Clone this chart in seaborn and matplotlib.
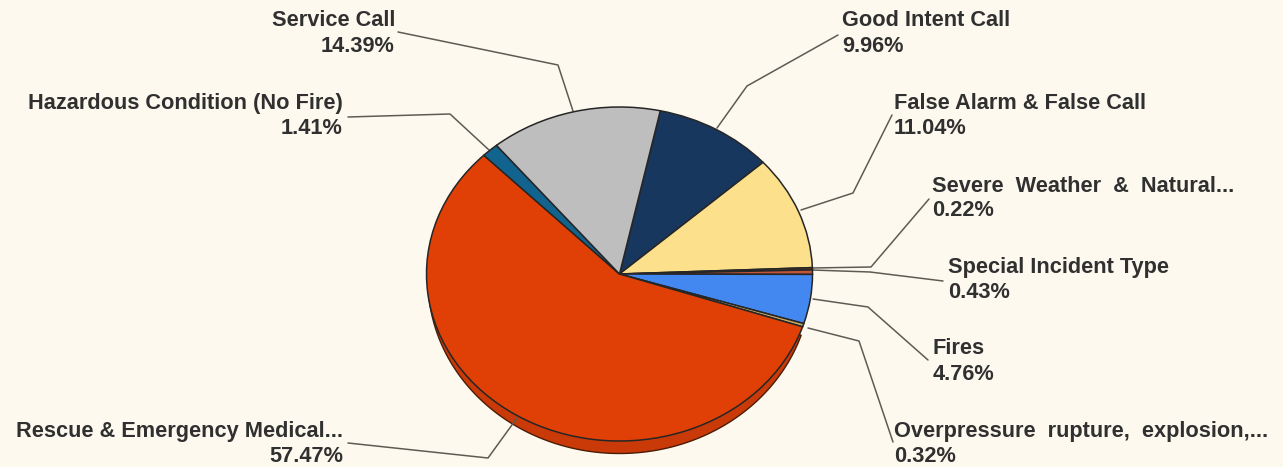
import matplotlib
matplotlib.use('Agg')
from matplotlib import pyplot as plt
import numpy as np
import seaborn as sns

labels = ['Good Intent Call', 'False Alarm & False Call', 'Severe  Weather  &  Natural...',
          'Special Incident Type', 'Fires', 'Overpressure  rupture,  explosion,...',
          'Rescue & Emergency Medical...', 'Hazardous Condition (No Fire)', 'Service Call']
shares = [9.96, 11.04, 0.22, 0.43, 4.76, 0.32, 57.47, 1.41, 14.39]
colors = ['#17375e', '#fde08c', '#5a4020', '#c2543a', '#4388f0', '#c9a860',
          '#e04006', '#12648f', '#bebebe']

W, H = 1283, 467
START_ANGLE = 77.8
cx, cy, rx, ry = 619.5, 274, 193, 167

# text corner of each label, then the leader line from label to pie, all in pixels
text_pos = [(842, 21), (894, 103.5), (932, 186), (948, 268), (933, 349), (894, 431.5),
            (343, 431.5), (343, 103.5), (395, 21)]
leaders = [[(838, 35), (747, 86), (717, 128)],
           [(892, 115), (853, 193), (801, 210)],
           [(929, 199), (871, 267), (812, 268)],
           [(943, 281), (870, 272), (812, 270)],
           [(928, 360), (868, 307), (813, 299)],
           [(893, 442), (859, 341), (808, 328)],
           [(348, 443), (488, 458), (517, 418)],
           [(348, 117), (450, 114), (489, 150)],
           [(398, 32), (558, 65), (573, 111)]]

sns.set_theme(style='white')
plt.rcParams['font.family'] = ['Liberation Sans', 'DejaVu Sans']

fig = plt.figure(figsize=(W / 100, H / 100), dpi=100, facecolor='#fef9ef')
ax = fig.add_axes([0, 0, 1, 1])
ax.set_xlim(0, W)
ax.set_ylim(H, 0)
ax.axis('off')

# the rim only shows under the big orange slice and tapers out at both ends
before = sum(shares[:6]) * 3.6
rim_theta = np.radians(np.linspace(START_ANGLE - before, START_ANGLE - before - shares[6] * 3.6, 200))
rim_x = np.r_[cx, cx + (rx - 1.5) * np.cos(rim_theta)]
rim_y = np.r_[cy + 6.5, cy + 6.5 - (ry + 6) * np.sin(rim_theta)]
ax.fill(rim_x, rim_y, fc='#c93a08', ec='#4a1c06', lw=1.0, zorder=1)

for pts in leaders:
    xs, ys = zip(*pts)
    ax.plot(xs, ys, color='#5c5c54', lw=1.1, zorder=1)

for label, share, (x, y) in zip(labels, shares, text_pos):
    ha = 'right' if x < cx else 'left'
    ax.text(x, y, label, ha=ha, va='center', fontsize=15.7, fontweight='bold', color='#303030')
    ax.text(x, y + 25, f'{share:.2f}%', ha=ha, va='center', fontsize=15.7, fontweight='bold', color='#303030')

# pie on its own axes, stretched to an ellipse
pad = 1.02
pie_ax = fig.add_axes([(cx - rx * pad) / W, 1 - (cy + ry * pad) / H, 2 * rx * pad / W, 2 * ry * pad / H])
pie_ax.patch.set_alpha(0)
pie_ax.pie(shares, colors=sns.color_palette(colors), startangle=START_ANGLE, counterclock=False,
           wedgeprops={'edgecolor': '#262626', 'linewidth': 1.1})
pie_ax.set_aspect('auto')
pie_ax.set_xlim(-pad, pad)
pie_ax.set_ylim(-pad, pad)

fig.savefig('out.png', dpi=100, facecolor=fig.get_facecolor())
